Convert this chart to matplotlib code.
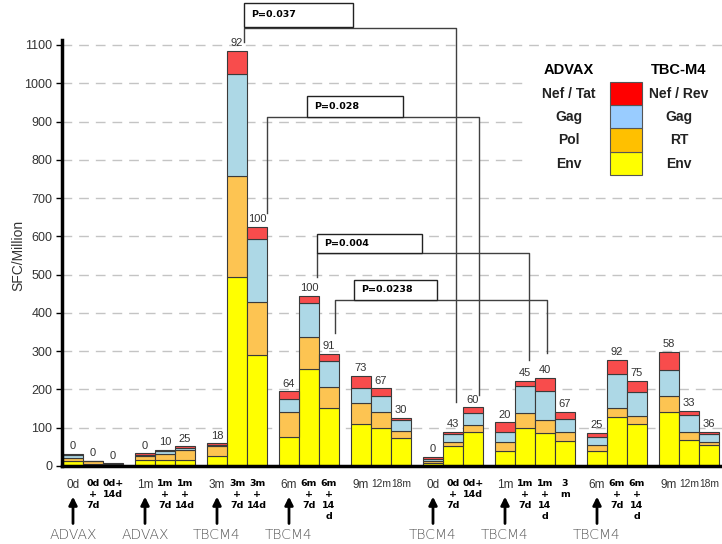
import matplotlib
matplotlib.use("Agg")
import matplotlib.pyplot as plt
from matplotlib.patches import Rectangle

# --- dados (SFC/Million) ---
grupos = [3, 3, 3, 3, 3, 3, 4, 3, 3]  # barras por grupo
env = [14, 6, 3, 16, 16, 16, 26, 494, 290, 75, 253, 151, 110, 99, 72,
       7, 51, 88, 39, 99, 85, 65, 40, 128, 110, 140, 68, 55]
pol_rt = [8, 6, 2, 10, 15, 26, 25, 264, 138, 65, 83, 55, 54, 41, 20,
          6, 11, 19, 25, 39, 34, 25, 15, 23, 21, 43, 20, 7]
gag = [7, 1, 1, 4, 7, 4, 5, 267, 166, 35, 90, 69, 41, 44, 27,
       5, 21, 31, 26, 71, 78, 33, 22, 90, 62, 68, 44, 22]
nef = [2, 1, 1, 3, 4, 5, 3, 60, 30, 20, 19, 17, 31, 19, 7,
       6, 7, 15, 24, 14, 34, 19, 9, 37, 30, 48, 13, 6]
respondedores = [0, 0, 0, 0, 10, 25, 18, 92, 100, 64, 100, 91, 73, 67, 30,
                 0, 43, 60, 20, 45, 40, 67, 25, 92, 75, 58, 33, 36]
rotulos = ["0d", "0d\n+\n7d", "0d+\n14d", "1m", "1m\n+\n7d", "1m\n+\n14d",
           "3m", "3m\n+\n7d", "3m\n+\n14d", "6m", "6m\n+\n7d", "6m\n+\n14\nd",
           "9m", "12m", "18m",
           "0d", "0d\n+\n7d", "0d+\n14d", "1m", "1m\n+\n7d", "1m\n+\n14\nd",
           "3\nm", "6m", "6m\n+\n7d", "6m\n+\n14\nd", "9m", "12m", "18m"]
vacinas_idx = [0, 3, 6, 9, 15, 18, 22]
vacinas = ["ADVAX", "ADVAX", "TBCM4", "TBCM4", "TBCM4", "TBCM4", "TBCM4"]

# comparacoes: barras, p, altura do colchete, fim de cada perna
comp_barras = [(7, 16), (8, 17), (10, 19), (11, 20)]
comp_p = ["P=0.037", "P=0.028", "P=0.004", "P=0.0238"]
comp_altura = [1145, 912, 557, 434]
comp_fim = [(1108, 167), (661, 186), (494, 277), (348, 295)]

cores = ["#ffff00", "#fdc452", "#add8e6", "#f84c4c"]
cores_leg = ["#ffff00", "#ffc000", "#99ccff", "#ff0000"]

# posicoes das barras
xs = []
pos = 0.05
for n in grupos:
    for i in range(n):
        xs.append(pos + i + 0.5)
    pos += n + 0.6

fig = plt.figure(figsize=(7.22, 5.44), dpi=100)
ax = fig.add_axes([62 / 722, 78 / 544, 660 / 722, 426 / 544])
plt.rcParams['font.family'] = ['Liberation Sans', 'DejaVu Sans']

base = [0] * len(xs)
for serie, cor in zip([env, pol_rt, gag, nef], cores):
    ax.bar(xs, serie, width=1.0, bottom=base, color=cor,
           edgecolor="#3a3a3a", linewidth=0.8, zorder=3)
    base = [b + v for b, v in zip(base, serie)]

for x, topo, r in zip(xs, base, respondedores):
    ax.annotate(str(r), (x, topo), xytext=(0, 2), textcoords="offset points",
                ha="center", va="bottom", fontsize=8, color="#333333",
                family="Liberation Sans", zorder=5)

ax.set_xlim(0, 33)
ax.set_ylim(0, 1113)
ax.set_yticks(range(0, 1101, 100))
ax.set_xticks([])
ax.tick_params(axis="y", length=4, width=1, pad=3, labelsize=9,
               labelcolor="#333333")
for t in ax.get_yticklabels():
    t.set_family("Liberation Sans")
ax.yaxis.grid(True, color="#c4c4c4", linestyle=(0, (7, 5)), linewidth=1)
ax.set_axisbelow(True)
for s in ["top", "right"]:
    ax.spines[s].set_visible(False)
for s in ["left", "bottom"]:
    ax.spines[s].set_linewidth(2.5)
    ax.spines[s].set_zorder(5)

fig.text(18 / 722, 1 - 255 / 544, "SFC/Million", rotation=90, ha="center",
         va="center", fontsize=10, color="#333333", family="Liberation Sans")

# rotulos do eixo x
tr = ax.get_xaxis_transform()
for x, rot in zip(xs, rotulos):
    if "\n" in rot:
        ax.text(x, -0.03, rot, transform=tr, ha="center", va="top",
                fontsize=6.8, fontweight="bold", family="DejaVu Sans",
                linespacing=1.3, color="black")
    else:
        tam = 8.5 if len(rot) <= 2 else 7.4
        ax.text(x, -0.03, rot, transform=tr, ha="center", va="top",
                fontsize=tam, color="#333333", family="Liberation Sans")

for i, nome in zip(vacinas_idx, vacinas):
    ax.annotate("", xy=(xs[i], -0.072), xytext=(xs[i], -0.135),
                xycoords=tr, textcoords=tr,
                arrowprops=dict(arrowstyle="-|>", color="black", lw=2,
                                mutation_scale=12, shrinkA=0, shrinkB=0))
    ax.text(xs[i], -0.163, nome, transform=tr, ha="center", va="center",
            fontsize=10, color="#555555", family="DejaVu Sans",
            fontweight="light")

# colchetes com valores de P
caixas = [(9.1, 14.55, 1147, 1210), (12.25, 17.05, 912, 967),
          (12.75, 18.0, 557, 606), (14.6, 18.75, 434, 486)]
desloc = [(0.35, 0.15), (0.5, 0.3), (0.4, 0.2), (0.3, 0.1)]
for (a, b), p, h, (fe, fd), cx, (de, dd) in zip(comp_barras, comp_p,
                                                 comp_altura, comp_fim,
                                                 caixas, desloc):
    xe = xs[a] + de
    xd = xs[b] + dd
    ax.plot([xe, xe, xd, xd], [fe, h, h, fd], color="#404040", lw=1,
            clip_on=False, zorder=4)
    ax.add_patch(Rectangle((cx[0], cx[2]), cx[1] - cx[0], cx[3] - cx[2],
                           facecolor="white", edgecolor="#222222", lw=1,
                           clip_on=False, zorder=6))
    ax.text(cx[0] + 0.35, (cx[2] + cx[3]) / 2, p, ha="left", va="center",
            fontsize=6.8, fontweight="bold", family="DejaVu Sans",
            zorder=7, clip_on=False)

# legenda
ax.add_patch(Rectangle((23.15, 734), 9.85, 340, facecolor="white",
                       edgecolor="none", zorder=2))
ax.text(25.35, 1035, "ADVAX", ha="center", va="center", fontsize=10.5,
        fontweight="bold", zorder=7)
ax.text(30.85, 1035, "TBC-M4", ha="center", va="center", fontsize=10.5,
        fontweight="bold", zorder=7)
esq = ["Env", "Pol", "Gag", "Nef / Tat"]
dir_ = ["Env", "RT", "Gag", "Nef / Rev"]
y0 = 760
for k, (cor, e, d) in enumerate(zip(cores_leg, esq, dir_)):
    yb = y0 + k * 61
    ax.add_patch(Rectangle((27.4, yb), 1.6, 61, facecolor=cor,
                           edgecolor="#555555", lw=0.8, zorder=7))
    ax.text(25.35, yb + 30, e, ha="center", va="center", fontsize=10,
            fontweight="bold", color="#222222", zorder=7)
    ax.text(30.85, yb + 30, d, ha="center", va="center", fontsize=10,
            fontweight="bold", color="#222222", zorder=7)

fig.savefig("out.png", dpi=100)
